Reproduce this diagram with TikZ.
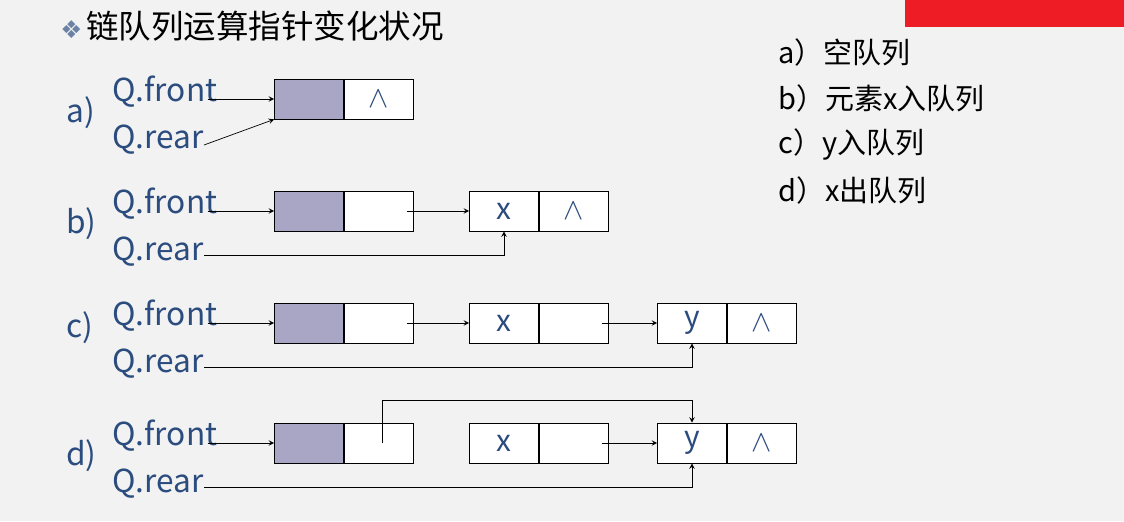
\documentclass[tikz,border=0pt]{standalone}
\usepackage{fontspec}
\setmainfont{Noto Sans CJK SC}
\newfontfamily\symfont{DejaVu Sans}
\usetikzlibrary{positioning,arrows}
\definecolor{qblue}{HTML}{2B4C7E}
\definecolor{qshade}{HTML}{A9A5C4}
\definecolor{pagebg}{HTML}{F2F2F2}
\definecolor{redbar}{HTML}{EE1C25}
\begin{document}
\begin{tikzpicture}[x=0.02cm,y=-0.02cm,>=stealth,
	cell/.style={rectangle,draw=black,fill=white,minimum width=1.38cm,minimum height=0.8cm,inner sep=0pt,font=\fontsize{17}{17}\selectfont\color{qblue}},
	head/.style={cell,fill=qshade},
	ptr/.style={font=\fontsize{18}{18}\selectfont,text=qblue,anchor=west,inner sep=0pt},
	note/.style={font=\fontsize{16.5}{16.5}\selectfont,anchor=west,inner sep=0pt}]
	\fill[pagebg] (0,0) rectangle (1124,521);
	\useasboundingbox (0,0) rectangle (1124,521);
	\fill[redbar] (905,0) rectangle (1124,27);
	\node[anchor=west,inner sep=0pt] (title) at (60,26)
		{{\symfont\color{qblue!70}\fontsize{14}{14}\selectfont ❖} \fontsize{18.5}{18.5}\selectfont 链队列运算指针变化状况};
	% notes on the right
	\node[note] (na) at (778,52) {a）空队列};
	\node[note] (nb) at (778,98) {b）元素x入队列};
	\node[note] (nc) at (778,144) {c）y入队列};
	\node[note] (nd) at (778,190) {d）x出队列};
	% a) empty queue
	\node[ptr] (la) at (66,113) {a)};
	\node[ptr] (fa) at (112,92) {Q.front};
	\node[ptr] (ra) at (112,140) {Q.rear};
	\node[head] (a1d) at (309,99) {};
	\node[cell] (a1n) [right=0pt of a1d] {$\wedge$};
	\draw[->] ([xshift=-0.2cm]fa.east |- a1d.west) -- (a1d.west);
	\draw[->] ([yshift=-0.1cm]ra.east) -- (a1d.south west);
	% b) x enters
	\node[ptr] (lb) at (66,224) {b)};
	\node[ptr] (fb) at (112,204) {Q.front};
	\node[ptr] (rb) at (112,252) {Q.rear};
	\node[head] (b1d) at (309,211) {};
	\node[cell] (b1n) [right=0pt of b1d] {};
	\node[cell] (b2d) at (504,211) {x};
	\node[cell] (b2n) [right=0pt of b2d] {$\wedge$};
	\draw[->] ([xshift=-0.2cm]fb.east |- b1d.west) -- (b1d.west);
	\draw[->] ([xshift=-0.14cm]b1n.east) -- (b2d.west);
	\draw[->] ([yshift=-0.06cm]rb.east) -| (b2d.south);
	% c) y enters
	\node[ptr] (lc) at (66,328) {c)};
	\node[ptr] (fc) at (112,316) {Q.front};
	\node[ptr] (rc) at (112,364) {Q.rear};
	\node[head] (c1d) at (309,323) {};
	\node[cell] (c1n) [right=0pt of c1d] {};
	\node[cell] (c2d) at (504,323) {x};
	\node[cell] (c2n) [right=0pt of c2d] {};
	\node[cell] (c3d) at (692,323) {y};
	\node[cell] (c3n) [right=0pt of c3d] {$\wedge$};
	\draw[->] ([xshift=-0.2cm]fc.east |- c1d.west) -- (c1d.west);
	\draw[->] ([xshift=-0.14cm]c1n.east) -- (c2d.west);
	\draw[->] ([xshift=-0.14cm]c2n.east) -- (c3d.west);
	\draw[->] ([yshift=-0.06cm]rc.east) -| (c3d.south);
	% d) x leaves
	\node[ptr] (ld) at (66,456) {d)};
	\node[ptr] (fd) at (112,436) {Q.front};
	\node[ptr] (rd) at (112,484) {Q.rear};
	\node[head] (d1d) at (309,443) {};
	\node[cell] (d1n) [right=0pt of d1d] {};
	\node[cell] (d2d) at (504,443) {x};
	\node[cell] (d2n) [right=0pt of d2d] {};
	\node[cell] (d3d) at (692,443) {y};
	\node[cell] (d3n) [right=0pt of d3d] {$\wedge$};
	\coordinate (dup) at (382,400);
	\draw[->] ([xshift=-0.2cm]fd.east |- d1d.west) -- (d1d.west);
	\draw[->] (dup |- d1n.center) -- (dup) -| (d3d.north);
	\draw[->] ([xshift=-0.14cm]d2n.east) -- (d3d.west);
	\draw[->] ([yshift=-0.06cm]rd.east) -| (d3d.south);
\end{tikzpicture}
\end{document}
